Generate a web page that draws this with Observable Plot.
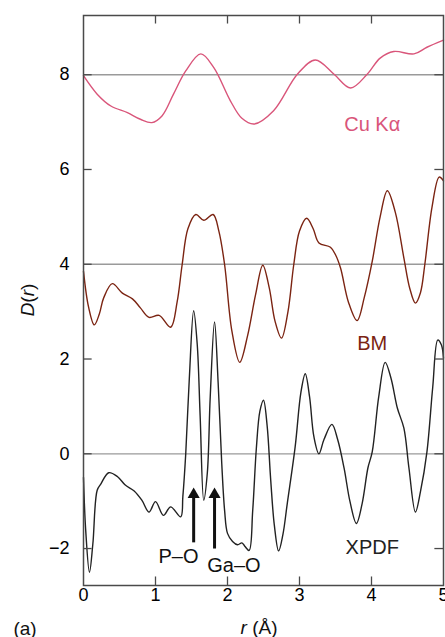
<!DOCTYPE html>
<html>
<head>
<meta charset="utf-8">
<script src="https://cdn.jsdelivr.net/npm/d3@7"></script>
<script src="https://cdn.jsdelivr.net/npm/@observablehq/plot@0.6"></script>
<style>
  html, body { margin: 0; padding: 0; background: #fff; }
  svg { font-family: "Liberation Sans", Arial, Helvetica, sans-serif; }
</style>
</head>
<body>
<div id="chart"></div>
<script>
// ---- data ----
const rXpdf = [0,0.03,0.083,0.13,0.19,0.24,0.35,0.47,0.58,0.70,0.81,0.91,1.00,1.11,1.21,1.35,1.38,1.42,1.47,1.53,1.58,1.62,1.67,1.72,1.76,1.82,1.87,1.92,1.96,2.00,2.07,2.14,2.20,2.24,2.30,2.35,2.40,2.45,2.50,2.55,2.60,2.65,2.71,2.77,2.83,2.94,3.02,3.08,3.14,3.20,3.27,3.34,3.45,3.53,3.62,3.70,3.79,3.87,3.95,4.01,4.10,4.19,4.27,4.36,4.45,4.52,4.61,4.68,4.77,4.85,4.92,4.97,5.0];
const dXpdf = [-0.50,-1.6,-2.50,-1.9,-0.77,-0.64,-0.40,-0.48,-0.66,-0.78,-0.98,-1.23,-1.01,-1.30,-1.12,-1.33,-0.9,0,1.6,3.02,2.3,0.8,-0.98,-0.4,1.2,2.78,1.5,-0.2,-1.2,-1.68,-1.85,-1.92,-1.88,-1.95,-2.04,-1.2,0.1,0.9,1.13,0.6,-0.55,-1.5,-2.05,-1.7,-1.05,0.15,1.3,1.69,1.2,0.36,0.0,0.3,0.62,0.3,-0.31,-1.0,-1.47,-1.05,-0.3,0.04,1.2,1.93,1.6,0.96,0.54,-0.3,-1.23,-0.8,0.04,1.4,2.40,2.3,2.02];

const rBM = [0,0.07,0.15,0.22,0.28,0.40,0.54,0.68,0.79,0.91,1.05,1.21,1.30,1.37,1.45,1.56,1.67,1.80,1.88,1.96,2.06,2.17,2.28,2.39,2.49,2.58,2.66,2.75,2.84,2.92,3.00,3.10,3.19,3.27,3.43,3.50,3.57,3.68,3.80,3.90,4.01,4.12,4.22,4.33,4.45,4.53,4.61,4.68,4.74,4.84,4.94,5.0];
const dBM = [3.85,3.1,2.72,2.95,3.29,3.59,3.39,3.27,3.08,2.88,2.92,2.67,3.2,3.99,4.75,5.05,4.93,5.05,4.7,3.99,2.6,1.93,2.5,3.36,3.98,3.5,2.8,2.44,3.0,3.99,4.7,4.97,4.75,4.45,4.36,4.2,3.92,3.2,2.81,3.3,4.06,5.0,5.55,5.1,4.13,3.5,3.18,3.4,3.99,5.2,5.84,5.76];

const rCu = [0,0.19,0.38,0.61,0.79,0.95,1.09,1.25,1.42,1.63,1.81,2.04,2.2,2.37,2.64,2.97,3.22,3.48,3.71,3.94,4.12,4.31,4.59,4.77,5.0];
const dCu = [7.98,7.59,7.34,7.20,7.06,6.99,7.13,7.59,8.08,8.44,8.15,7.45,7.08,6.96,7.24,8.01,8.31,8.01,7.72,8.01,8.35,8.49,8.44,8.58,8.73];

const xTicks = [0,1,2,3,4,5];
const yTicks = [-2,0,2,4,6,8];
const refLines = [0,4,8];

const seriesNames = ["XPDF","BM","Cu Kα"];
const seriesColors = ["#222222","#7b2412","#d9557a"];
const seriesLabelX = [4.01,4.01,4.01];
const seriesLabelY = [-1.97,2.33,6.95];

const arrowNames = ["P–O","Ga–O"];
const arrowX = [1.53,1.82];
const arrowY1 = [-1.88,-2.01];
const arrowY2 = [-0.90,-0.90];
const arrowLabelX = [1.32,2.09];
const arrowLabelY = [-2.18,-2.35];

const xDomain = [0,5];
const yDomain = [-2.78,9.25];

// ---- tables ----
const labelRows = seriesNames.map((n,i)=>({name:n,color:seriesColors[i],x:seriesLabelX[i],y:seriesLabelY[i]}));
const arrowRows = arrowNames.map((n,i)=>({name:n,x:arrowX[i],y1:arrowY1[i],y2:arrowY2[i],lx:arrowLabelX[i],ly:arrowLabelY[i]}));
const innerX = xTicks.filter(d => d > xDomain[0] && d < xDomain[1]);

const tickLenX = 0.12, tickLenY = 0.18;
const frameColor = "#4a4a4a";

const chart = Plot.plot({
  width: 445,
  height: 637,
  marginTop: 15,
  marginRight: 2,
  marginBottom: 52,
  marginLeft: 83,
  style: {fontFamily: '"Liberation Sans", Arial, Helvetica, sans-serif', background: "#fff"},
  x: {domain: xDomain},
  y: {domain: yDomain},
  marks: [
    Plot.ruleY(refLines, {y: d => d, stroke: "#9a9a9a", strokeWidth: 1.3}),
    Plot.line(dCu, {x: rCu, y: dCu, stroke: seriesColors[2], strokeWidth: 1.4, curve: "catmull-rom"}),
    Plot.line(dBM, {x: rBM, y: dBM, stroke: seriesColors[1], strokeWidth: 1.4, curve: "catmull-rom"}),
    Plot.line(dXpdf, {x: rXpdf, y: dXpdf, stroke: seriesColors[0], strokeWidth: 1.4, curve: "catmull-rom"}),
    // inward ticks
    Plot.ruleY(yTicks, {y: d => d, x1: xDomain[0], x2: xDomain[0] + tickLenX, stroke: frameColor, strokeWidth: 1.3}),
    Plot.ruleY(yTicks, {y: d => d, x1: xDomain[1] - tickLenX, x2: xDomain[1], stroke: frameColor, strokeWidth: 1.3}),
    Plot.ruleX(innerX, {x: d => d, y1: yDomain[0], y2: yDomain[0] + tickLenY, stroke: frameColor, strokeWidth: 1.3}),
    Plot.ruleX(innerX, {x: d => d, y1: yDomain[1] - tickLenY, y2: yDomain[1], stroke: frameColor, strokeWidth: 1.3}),
    Plot.frame({stroke: frameColor, strokeWidth: 1.5}),
    Plot.axisX({ticks: xTicks, tickSize: 0, tickPadding: 3, fontSize: 18, label: null, tickFormat: d3.format("d")}),
    Plot.axisY({ticks: yTicks, tickSize: 0, tickPadding: 14, fontSize: 18, label: null, tickFormat: d => d < 0 ? "\u2212" + Math.abs(d) : String(d)}),
    // arrows
    Plot.ruleX(arrowRows, {x: "x", y1: "y1", y2: "y2", stroke: "#111", strokeWidth: 3}),
    Plot.dot(arrowRows, {x: "x", y: "y2", symbol: "triangle", r: 4.5, fill: "#111", stroke: "none", dy: -2}),
    Plot.text(arrowRows, {x: "lx", y: "ly", text: "name", fontSize: 20, fill: "#111"}),
    // series labels
    Plot.text(labelRows, {x: "x", y: "y", text: "name", fill: "color", fontSize: 20})
  ]
});

const svg = d3.select(chart);
// y-axis label D(r)
const yl = svg.append("text")
  .attr("transform", "translate(27,300) rotate(-90)")
  .attr("text-anchor", "middle")
  .attr("dominant-baseline", "central")
  .attr("font-size", 19)
  .attr("fill", "#111");
yl.append("tspan").attr("font-style", "italic").text("D");
yl.append("tspan").text("(");
yl.append("tspan").attr("font-style", "italic").text("r");
yl.append("tspan").text(")");
// x-axis label r (Å)
const xl = svg.append("text")
  .attr("x", 259).attr("y", 627)
  .attr("text-anchor", "middle")
  .attr("dominant-baseline", "central")
  .attr("font-size", 19)
  .attr("fill", "#111");
xl.append("tspan").attr("font-style", "italic").text("r");
xl.append("tspan").text(" (Å)");
// panel tag
svg.append("text")
  .attr("x", 25).attr("y", 628)
  .attr("text-anchor", "middle")
  .attr("dominant-baseline", "central")
  .attr("font-size", 19)
  .attr("fill", "#111")
  .text("(a)");

document.getElementById("chart").appendChild(chart);
</script>
</body>
</html>
